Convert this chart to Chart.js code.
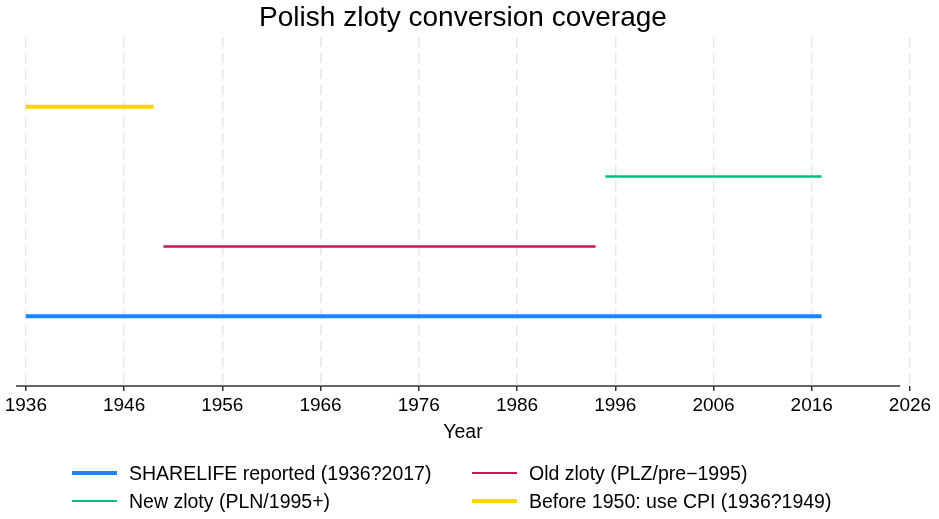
<!DOCTYPE html>
<html>
<head>
<meta charset="utf-8">
<script src="https://cdn.jsdelivr.net/npm/chart.js@4/dist/chart.umd.min.js"></script>
<style>
  html, body { margin: 0; padding: 0; background: #fff; }
  #wrap { position: relative; width: 939px; height: 519px; font-family: "Liberation Sans", Arial, Helvetica, sans-serif; }
  canvas { position: absolute; left: 0; top: 0; }
  .lg { position: absolute; height: 24px; font-size: 19.5px; color: #000; white-space: nowrap; }
  .lg .sw { position: absolute; left: 0; width: 45px; }
  .lg .tx { position: absolute; left: 57px; top: 0; line-height: 24px; }
</style>
</head>
<body>
<div id="wrap">
  <canvas id="c" width="939" height="519"></canvas>
  <div id="legend"></div>
</div>
<script>
// ---- Data ----
const seriesNames = [
  "SHARELIFE reported (1936?2017)",
  "Old zloty (PLZ/pre\u22121995)",
  "New zloty (PLN/1995+)",
  "Before 1950: use CPI (1936?1949)"
];
const startYears = [1936, 1950, 1995, 1936];
const endYears   = [2017, 1994, 2017, 1949];
const rowLevels  = [1, 2, 3, 4];
const tickYears  = [1936, 1946, 1956, 1966, 1976, 1986, 1996, 2006, 2016, 2026];

// ---- Styles ----
const colors = ["#1a85ff", "#d41159", "#00bf7f", "#ffd400"];
const widths = [4, 2.5, 2.5, 4];
const FONT = '"Liberation Sans", Arial, Helvetica, sans-serif';

const datasets = seriesNames.map((name, i) => ({
  label: name,
  data: [{x: startYears[i], y: rowLevels[i]}, {x: endYears[i], y: rowLevels[i]}],
  borderColor: colors[i],
  backgroundColor: colors[i],
  borderWidth: widths[i],
  borderCapStyle: 'butt',
  pointRadius: 0,
  fill: false,
  tension: 0
}));

const axisLinePlugin = {
  id: 'axisLine',
  afterDatasetsDraw(chart) {
    const {ctx, chartArea, scales} = chart;
    const x0 = scales.x.getPixelForValue(1935);
    const x1 = scales.x.getPixelForValue(2025);
    ctx.save();
    ctx.strokeStyle = '#333333';
    ctx.lineWidth = 1.5;
    ctx.beginPath();
    ctx.moveTo(x0, chartArea.bottom);
    ctx.lineTo(x1, chartArea.bottom);
    ctx.stroke();
    ctx.restore();
  }
};

new Chart(document.getElementById('c'), {
  type: 'line',
  data: { datasets },
  plugins: [axisLinePlugin],
  options: {
    responsive: false,
    animation: false,
    layout: { padding: { left: 16, right: 29, top: 0, bottom: 73 } },
    plugins: {
      legend: { display: false },
      tooltip: { enabled: false },
      title: {
        display: true,
        text: 'Polish zloty conversion coverage',
        color: '#000',
        font: { family: FONT, size: 28, weight: 'normal', lineHeight: 1.2 },
        padding: { top: 1.5, bottom: 1.9 }
      }
    },
    scales: {
      x: {
        type: 'linear',
        min: 1935,
        max: 2026,
        afterBuildTicks: (scale) => { scale.ticks = tickYears.map(v => ({ value: v })); },
        afterFit: (scale) => { scale.height = 60; },
        ticks: {
          color: '#000',
          padding: 3,
          autoSkip: false,
          maxRotation: 0,
          font: { family: FONT, size: 19 },
          callback: (v) => String(v)
        },
        grid: {
          color: '#e6e6e6',
          lineWidth: 1.5,
          drawTicks: true,
          tickLength: 5,
          tickColor: '#333333',
          tickWidth: 1.5,
          tickBorderDash: []
        },
        border: { display: false, dash: [10, 6] },
        title: {
          display: true,
          text: 'Year',
          color: '#000',
          font: { family: FONT, size: 19.5 },
          padding: { top: 0, bottom: 2 }
        }
      },
      y: {
        type: 'linear',
        min: 0,
        max: 5,
        display: false
      }
    }
  }
});

// HTML legend (2 columns x 2 rows)
const legendPos = [
  {x: 72, y: 473}, {x: 472, y: 473},
  {x: 72, y: 501}, {x: 472, y: 501}
];
const legendOrder = [0, 1, 2, 3];
const lg = document.getElementById('legend');
legendOrder.forEach((si, k) => {
  const p = legendPos[k];
  const item = document.createElement('div');
  item.className = 'lg';
  item.style.left = p.x + 'px';
  item.style.top = (p.y - 12) + 'px';
  const sw = document.createElement('span');
  sw.className = 'sw';
  sw.style.height = widths[si] + 'px';
  sw.style.top = (12 - widths[si] / 2) + 'px';
  sw.style.background = colors[si];
  const tx = document.createElement('span');
  tx.className = 'tx';
  tx.textContent = seriesNames[si];
  item.appendChild(sw);
  item.appendChild(tx);
  lg.appendChild(item);
});
</script>
</body>
</html>
